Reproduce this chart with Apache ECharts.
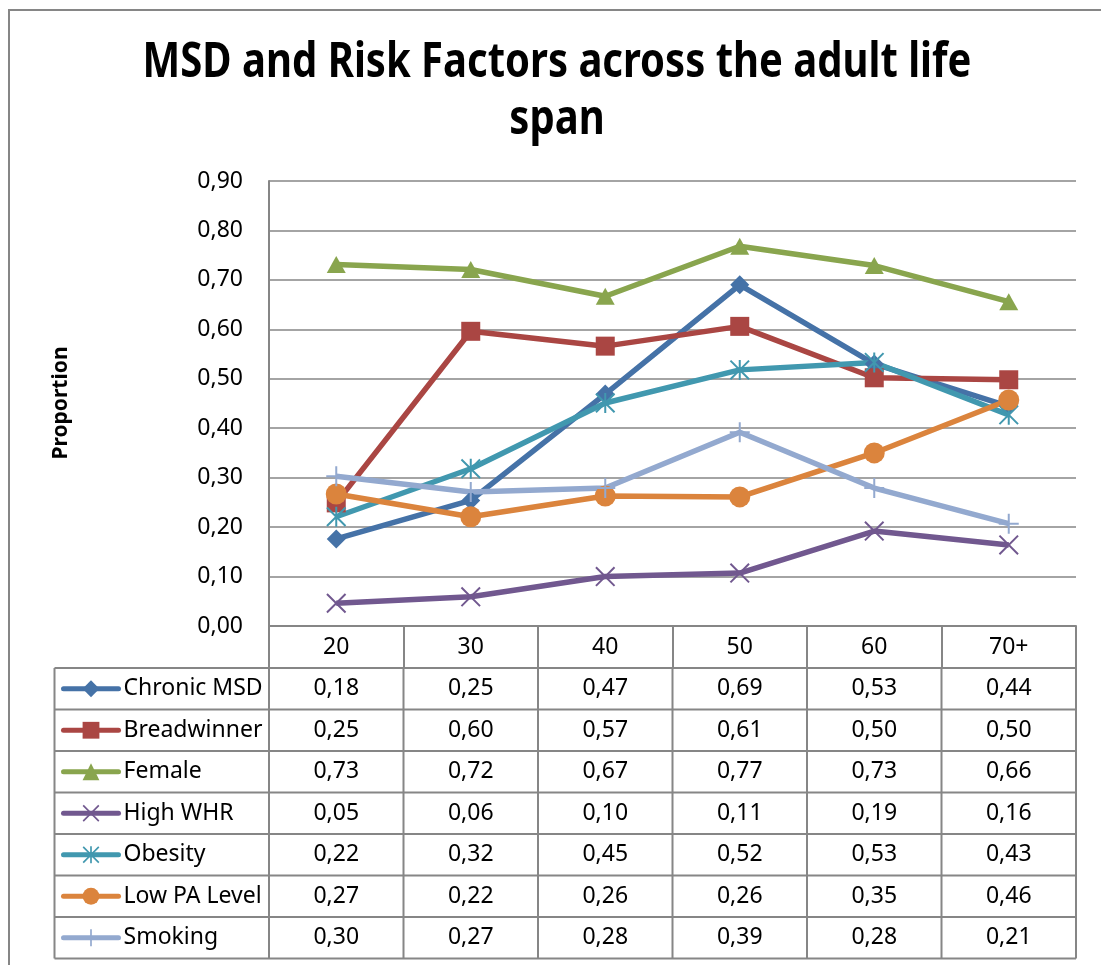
<!DOCTYPE html>
<html>
<head>
<meta charset="utf-8">
<script src="https://cdn.jsdelivr.net/npm/echarts@6/dist/echarts.min.js"></script>
<style>
    html, body { margin: 0; padding: 0; background: #fff; }
    #chart { width: 1101px; height: 965px; }
</style>
</head>
<body>
<div id="chart"></div>
<script>
// age groups on the x axis
const categories = ['20', '30', '40', '50', '60', '70+'];
const yTicks = [0, 0.1, 0.2, 0.3, 0.4, 0.5, 0.6, 0.7, 0.8, 0.9];

// proportions per age group
const chronicMSD = [0.176, 0.254, 0.469, 0.690, 0.530, 0.444];
const breadwinner = [0.249, 0.596, 0.566, 0.606, 0.502, 0.498];
const female = [0.731, 0.721, 0.667, 0.768, 0.729, 0.656];
const highWHR = [0.046, 0.059, 0.100, 0.107, 0.192, 0.164];
const obesity = [0.221, 0.318, 0.451, 0.518, 0.533, 0.427];
const lowPA = [0.267, 0.221, 0.263, 0.261, 0.350, 0.457];
const smoking = [0.303, 0.271, 0.279, 0.392, 0.279, 0.207];

const seriesNames = ['Chronic MSD', 'Breadwinner', 'Female', 'High WHR', 'Obesity', 'Low PA Level', 'Smoking'];
const seriesData = [chronicMSD, breadwinner, female, highWHR, obesity, lowPA, smoking];
const colors = ['#4572A7', '#AA4643', '#89A54E', '#71588F', '#4198AF', '#DB843D', '#93A9CF'];

// marker shapes (thin x / star / plus drawn as filled paths)
const xPath = 'path://M0,0.7 L0.7,0 L10,9.3 L9.3,10 Z M9.3,0 L10,0.7 L0.7,10 L0,9.3 Z';
const starPath = 'path://M0,0.7 L0.7,0 L10,9.3 L9.3,10 Z M9.3,0 L10,0.7 L0.7,10 L0,9.3 Z M4.5,0 L5.5,0 L5.5,10 L4.5,10 Z';
const plusPath = 'path://M4.5,0 L5.5,0 L5.5,10 L4.5,10 Z M0,4.5 L10,4.5 L10,5.5 L0,5.5 Z';
const symbols = ['diamond', 'rect', 'triangle', xPath, starPath, 'circle', plusPath];
const symbolSizes = [[19, 19], 19, [19, 17], 20, 20, 21, 20];

const font = '"Noto Sans", "Open Sans", sans-serif';
const gray = '#868686';
const fmt = v => v.toFixed(2).replace('.', ',');

const chart = echarts.init(document.getElementById('chart'));

chart.setOption({
    animation: false,
    grid: { left: 269, right: 25, top: 181, bottom: 339 },
    legend: {
        data: seriesNames,
        orient: 'vertical',
        left: 61,
        top: 675.75,
        padding: 0,
        itemWidth: 55,
        itemHeight: 21,
        itemGap: 15.5,
        selectedMode: false,
        lineStyle: { width: 5, cap: 'round' },
        textStyle: { fontSize: 23, lineHeight: 26, color: '#000', fontFamily: font }
    },
    xAxis: {
        type: 'category',
        data: categories,
        boundaryGap: true,
        axisLine: { lineStyle: { color: gray, width: 2 } },
        axisTick: { show: true, length: 42, lineStyle: { color: gray, width: 2 } },
        axisLabel: { fontSize: 23, color: '#000', fontFamily: font, margin: 21, verticalAlign: 'middle', lineHeight: 23 }
    },
    yAxis: {
        type: 'value',
        min: yTicks[0],
        max: yTicks[yTicks.length - 1],
        interval: 0.1,
        axisLine: { show: true, lineStyle: { color: gray, width: 2 } },
        axisTick: { show: false },
        axisLabel: { fontSize: 23, color: '#000', fontFamily: font, margin: 26, formatter: fmt },
        splitLine: { lineStyle: { color: gray, width: 1.5 } }
    },
    series: seriesNames.map((name, i) => ({
        name: name,
        type: 'line',
        data: seriesData[i],
        color: colors[i],
        symbol: symbols[i],
        symbolSize: symbolSizes[i],
        showAllSymbol: true,
        lineStyle: { width: 5.5, color: colors[i] },
        itemStyle: { color: colors[i] },
        emphasis: { disabled: true }
    }))
});

// data table under the plot, placed from the axis positions
const centers = categories.map(c => chart.convertToPixel({ xAxisIndex: 0 }, c));
const half = (centers[1] - centers[0]) / 2;
const tableLeft = 54.5;
const tableRight = centers[centers.length - 1] + half;
const rowTop = 668;
const rowH = 41.5;
const tableBottom = rowTop + rowH * seriesNames.length;

const graphics = [
    // chart border
    { type: 'rect', shape: { x: 9, y: 10, width: 1300, height: 1300 }, style: { fill: null, stroke: gray, lineWidth: 2 }, silent: true },
    {
        // title is taller and narrower in the original font, so stretch it a bit
        type: 'text', x: 557, y: 92, scaleY: 1.2,
        style: {
            text: 'MSD and Risk Factors across the adult life\nspan',
            font: 'bold 40px ' + font, fill: '#000',
            align: 'center', verticalAlign: 'middle', lineHeight: 48
        }
    },
    {
        type: 'text', x: 61, y: 403, rotation: Math.PI / 2,
        style: { text: 'Proportion', font: 'bold 21px ' + font, fill: '#000', align: 'center', verticalAlign: 'middle' }
    }
];

for (let r = 0; r <= seriesNames.length; r++) {
    const y = rowTop + r * rowH;
    graphics.push({ type: 'line', shape: { x1: tableLeft, y1: y, x2: tableRight, y2: y }, style: { stroke: gray, lineWidth: 2 }, silent: true });
}
const vLines = [tableLeft].concat(centers.map(c => c - half), [tableRight]);
vLines.forEach(x => {
    graphics.push({ type: 'line', shape: { x1: x, y1: rowTop, x2: x, y2: tableBottom }, style: { stroke: gray, lineWidth: 2 }, silent: true });
});
seriesData.forEach((vals, r) => {
    const y = rowTop + rowH * (r + 0.5);
    vals.forEach((v, c) => {
        graphics.push({
            type: 'text', x: centers[c], y: y, silent: true,
            style: { text: fmt(v), font: '23px ' + font, fill: '#000', align: 'center', verticalAlign: 'middle' }
        });
    });
});

chart.setOption({ graphic: graphics });
</script>
</body>
</html>
